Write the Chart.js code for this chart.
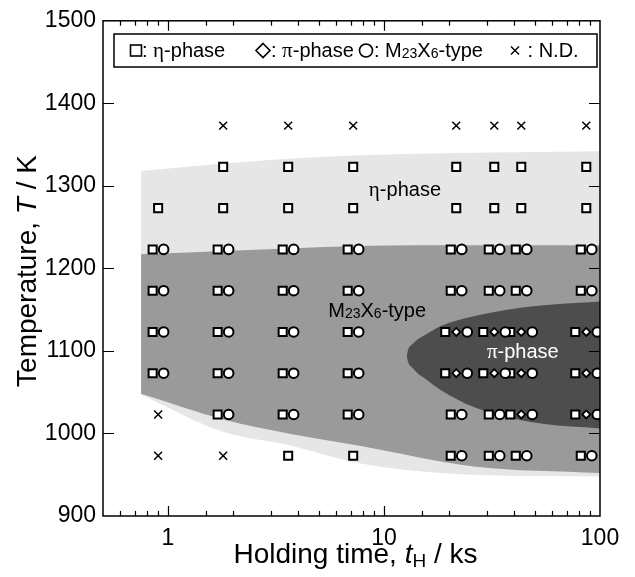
<!DOCTYPE html>
<html>
<head>
<meta charset="utf-8">
<script src="https://cdn.jsdelivr.net/npm/chart.js@4.4.1/dist/chart.umd.min.js"></script>
<style>
  html, body { margin: 0; padding: 0; background: #fff; }
  #phaseMap { display: block; }
</style>
</head>
<body>
<canvas id="phaseMap" width="635" height="577" style="width:635px;height:577px"></canvas>
<script>
// holding times of the runs (ks)
const holdTime = [0.9, 1.8, 3.6, 7.2, 21.6, 32.4, 43.2, 86.4];

// temperatures (K) where each phase was found, one list per holding time
const etaT = [
  [1273, 1223, 1173, 1123, 1073],
  [1323, 1273, 1223, 1173, 1123, 1073, 1023],
  [1323, 1273, 1223, 1173, 1123, 1073, 1023, 973],
  [1323, 1273, 1223, 1173, 1123, 1073, 1023, 973],
  [1323, 1273, 1223, 1173, 1123, 1073, 1023, 973],
  [1323, 1273, 1223, 1173, 1123, 1073, 1023, 973],
  [1323, 1273, 1223, 1173, 1123, 1073, 1023, 973],
  [1323, 1273, 1223, 1173, 1123, 1073, 1023, 973]
];
const piT = [[], [], [], [], [1123, 1073], [1123, 1073], [1123, 1073, 1023], [1123, 1073, 1023]];
const m23T = [
  [1223, 1173, 1123, 1073],
  [1223, 1173, 1123, 1073, 1023],
  [1223, 1173, 1123, 1073, 1023],
  [1223, 1173, 1123, 1073, 1023],
  [1223, 1173, 1123, 1073, 1023, 973],
  [1223, 1173, 1123, 1073, 1023, 973],
  [1223, 1173, 1123, 1073, 1023, 973],
  [1223, 1173, 1123, 1073, 1023, 973]
];
const ndT = [[1023, 973], [1373, 973], [1373], [1373], [1373], [1373], [1373], [1373]];

// region boundaries
const regionTime = [0.75, 1.8, 3.6, 7.7, 26, 100];
const etaTop = [1318, 1327, 1333, 1337, 1340, 1342];
const etaBottom = [1047, 1002, 986, 964, 950, 948];
const m23Top = [1217, 1221, 1224, 1227, 1228, 1228];
const m23Bottom = [1048, 1017, 1000, 985, 960, 952];
const piTime = [12.74, 12.95, 13.5, 14.3, 15.2, 18.2, 26, 37.2, 53.2, 100];
const piTop = [1094, 1102, 1108, 1114, 1118, 1130, 1142, 1150, 1155, 1160];
const piBottom = [1094, 1086, 1080, 1073, 1068, 1053, 1032, 1020, 1012, 1006];

// axis ticks
const xLabels = [1, 10, 100];
const yTicks = [900, 1000, 1100, 1200, 1300, 1400, 1500];

// where the region names sit (t, T)
const etaLabelAt = [12.5, 1295];
const m23LabelAt = [9.3, 1148];
const piLabelAt = [43.9, 1098];

const SANS = '"Liberation Sans", Arial, sans-serif';
const SERIF = '"Liberation Serif", "Times New Roman", serif';

function pairs(xs, ys) {
  return xs.map((x, i) => ({ x: x, y: ys[i] }));
}

// markers of one run sit side by side: square, diamond, circle
function buildMarkers() {
  const eta = [], pi = [], m23 = [], nd = [];
  holdTime.forEach((t, i) => {
    const temps = new Set([...etaT[i], ...piT[i], ...m23T[i]]);
    temps.forEach(T => {
      const has = [etaT[i].includes(T), piT[i].includes(T), m23T[i].includes(T)];
      const n = has.filter(Boolean).length;
      const slots = n === 3 ? [-11, 0, 11] : n === 2 ? [-5.5, 5.5] : [0];
      let k = 0;
      if (has[0]) eta.push({ x: t, y: T, dx: slots[k++] });
      if (has[1]) pi.push({ x: t, y: T, dx: slots[k++] });
      if (has[2]) m23.push({ x: t, y: T, dx: slots[k++] });
    });
    ndT[i].forEach(T => nd.push({ x: t, y: T, dx: 0 }));
  });
  return { eta, pi, m23, nd };
}
const marks = buildMarkers();

function region(data, color, fillTo, order) {
  return {
    type: 'line', data: data, borderWidth: 0, pointRadius: 0,
    backgroundColor: color, fill: fillTo, order: order,
    cubicInterpolationMode: 'monotone'
  };
}

function drawRuns(ctx, runs, x, y, align) {
  let total = 0;
  runs.forEach(r => { ctx.font = r.font; total += ctx.measureText(r.text).width; });
  let cx = align === 'center' ? x - total / 2 : x;
  runs.forEach(r => {
    ctx.font = r.font;
    ctx.fillText(r.text, cx, y + (r.dy || 0));
    cx += ctx.measureText(r.text).width;
  });
}

function sans(px, style) { return (style || '') + ' ' + px + 'px ' + SANS; }
function serif(px) { return px + 'px ' + SERIF; }

function m23Runs(px) {
  return [
    { text: 'M', font: sans(px) },
    { text: '23', font: sans(Math.round(px * 0.7)), dy: px * 0.15 },
    { text: 'X', font: sans(px) },
    { text: '6', font: sans(Math.round(px * 0.7)), dy: px * 0.15 },
    { text: '-type', font: sans(px) }
  ];
}

// pixel offsets inside a run group
const markerShift = {
  id: 'markerShift',
  afterDatasetsUpdate(chart) {
    chart.data.datasets.forEach((ds, i) => {
      if (!ds.shift) return;
      chart.getDatasetMeta(i).data.forEach((el, j) => { el.x += ds.data[j].dx || 0; });
    });
  }
};

// region names
const regionNames = {
  id: 'regionNames',
  beforeDatasetDraw(chart, args) {
    if (args.index !== 3) return;
    const { ctx, scales: { x, y } } = chart;
    ctx.save();
    ctx.textBaseline = 'middle';
    ctx.fillStyle = '#000';
    drawRuns(ctx, [{ text: 'η', font: serif(21) }, { text: '-phase', font: sans(20) }],
      x.getPixelForValue(etaLabelAt[0]), y.getPixelForValue(etaLabelAt[1]), 'center');
    drawRuns(ctx, m23Runs(20), x.getPixelForValue(m23LabelAt[0]), y.getPixelForValue(m23LabelAt[1]), 'center');
    ctx.fillStyle = '#fff';
    drawRuns(ctx, [{ text: 'π', font: serif(21) }, { text: '-phase', font: sans(20) }],
      x.getPixelForValue(piLabelAt[0]), y.getPixelForValue(piLabelAt[1]), 'center');
    ctx.restore();
  }
};

// frame, inward ticks, axis titles and legend box
const frame = {
  id: 'frame',
  afterDraw(chart) {
    const { ctx, chartArea: a, scales: { x, y } } = chart;
    ctx.save();
    ctx.strokeStyle = '#000';
    ctx.lineWidth = 1.5;
    ctx.strokeRect(a.left, a.top, a.right - a.left, a.bottom - a.top);

    ctx.beginPath();
    x.ticks.forEach(tk => {
      const v = tk.value;
      if (v <= x.min || v >= x.max) return;
      const px = Math.round(x.getPixelForValue(v)) + 0.5;
      const lg = Math.log10(v);
      const len = Math.abs(lg - Math.round(lg)) < 1e-6 ? 10 : 5;
      ctx.moveTo(px, a.bottom); ctx.lineTo(px, a.bottom - len);
      ctx.moveTo(px, a.top); ctx.lineTo(px, a.top + len);
    });
    yTicks.forEach(v => {
      if (v <= y.min || v >= y.max) return;
      const py = Math.round(y.getPixelForValue(v)) + 0.5;
      ctx.moveTo(a.left, py); ctx.lineTo(a.left + 11, py);
      ctx.moveTo(a.right, py); ctx.lineTo(a.right - 11, py);
    });
    ctx.lineWidth = 1.2;
    ctx.stroke();

    // axis titles
    ctx.fillStyle = '#000';
    ctx.textBaseline = 'alphabetic';
    drawRuns(ctx, [
      { text: 'Holding time, ', font: sans(28) },
      { text: 't', font: sans(28, 'italic') },
      { text: 'H', font: sans(19), dy: 4 },
      { text: ' / ks', font: sans(28) }
    ], (a.left + a.right) / 2 + 4, 563, 'center');
    ctx.save();
    ctx.translate(36, 271);
    ctx.rotate(-Math.PI / 2);
    drawRuns(ctx, [
      { text: 'Temperature, ', font: sans(28) },
      { text: 'T', font: sans(28, 'italic') },
      { text: ' / K', font: sans(28) }
    ], 0, 0, 'center');
    ctx.restore();

    // legend
    const lx = 114, ly = 34, lw = 483, lh = 33, cy = ly + lh / 2;
    ctx.fillStyle = '#fff';
    ctx.fillRect(lx, ly, lw, lh);
    ctx.lineWidth = 1.5;
    ctx.strokeRect(lx, ly, lw, lh);
    ctx.fillStyle = '#000';
    ctx.lineWidth = 1.6;
    ctx.strokeRect(130.5, cy - 5.5, 11, 11);
    ctx.beginPath();
    ctx.moveTo(263, cy - 7); ctx.lineTo(270, cy); ctx.lineTo(263, cy + 7); ctx.lineTo(256, cy); ctx.closePath();
    ctx.stroke();
    ctx.beginPath(); ctx.arc(366, cy, 6.5, 0, Math.PI * 2); ctx.stroke();
    ctx.beginPath();
    ctx.moveTo(511, cy - 4); ctx.lineTo(519, cy + 4);
    ctx.moveTo(519, cy - 4); ctx.lineTo(511, cy + 4);
    ctx.lineWidth = 1.4;
    ctx.stroke();
    ctx.textBaseline = 'middle';
    drawRuns(ctx, [{ text: ': ', font: sans(20) }, { text: 'η', font: serif(21) }, { text: '-phase', font: sans(20) }], 142, cy + 1, 'left');
    drawRuns(ctx, [{ text: ': ', font: sans(20) }, { text: 'π', font: serif(21) }, { text: '-phase', font: sans(20) }], 271, cy + 1, 'left');
    drawRuns(ctx, [{ text: ': ', font: sans(20) }].concat(m23Runs(20)), 374, cy + 1, 'left');
    drawRuns(ctx, [{ text: ' : N.D.', font: sans(20) }], 522, cy + 1, 'left');
    ctx.restore();
  }
};

new Chart(document.getElementById('phaseMap'), {
  type: 'scatter',
  data: {
    datasets: [
      { label: 'N.D.', data: marks.nd, shift: true, pointStyle: 'crossRot', pointRadius: 5.6,
        borderColor: '#000', borderWidth: 1.5, order: 1 },
      { label: 'M23X6-type', data: marks.m23, shift: true, pointStyle: 'circle', pointRadius: 4.8,
        backgroundColor: '#fff', borderColor: '#000', borderWidth: 2, order: 2 },
      { label: 'pi-phase', data: marks.pi, shift: true, pointStyle: 'rectRot', pointRadius: 4,
        backgroundColor: '#fff', borderColor: '#000', borderWidth: 1.8, order: 3 },
      { label: 'eta-phase', data: marks.eta, shift: true, pointStyle: 'rect', pointRadius: 5.7,
        backgroundColor: '#fff', borderColor: '#000', borderWidth: 2, order: 4 },
      region(pairs(piTime, piTop), '#4d4d4d', 5, 6),
      region(pairs(piTime, piBottom), 'transparent', false, 6.5),
      region(pairs(regionTime, m23Top), '#9a9a9a', 7, 7),
      region(pairs(regionTime, m23Bottom), 'transparent', false, 7.5),
      region(pairs(regionTime, etaTop), '#e6e6e6', 9, 8),
      region(pairs(regionTime, etaBottom), 'transparent', false, 8.5)
    ]
  },
  options: {
    responsive: false,
    animation: false,
    devicePixelRatio: 1,
    layout: { padding: { top: 18, right: 35, left: 0, bottom: 0 } },
    plugins: { legend: { display: false }, tooltip: { enabled: false } },
    scales: {
      x: {
        type: 'logarithmic', min: 0.5, max: 100,
        grid: { display: false, drawTicks: false },
        border: { display: false },
        afterFit(s) { s.height = 61; },
        ticks: {
          autoSkip: false, maxRotation: 0, padding: 9, color: '#000',
          font: { family: SANS, size: 23 },
          callback: v => xLabels.includes(v) ? String(v) : ''
        }
      },
      y: {
        min: 900, max: 1500,
        grid: { display: false, drawTicks: false },
        border: { display: false },
        afterFit(s) { s.width = 103; },
        afterBuildTicks(s) { s.ticks = yTicks.map(v => ({ value: v })); },
        ticks: { padding: 7, color: '#000', font: { family: SANS, size: 23 }, callback: v => String(v) }
      }
    }
  },
  plugins: [markerShift, regionNames, frame]
});
</script>
</body>
</html>
